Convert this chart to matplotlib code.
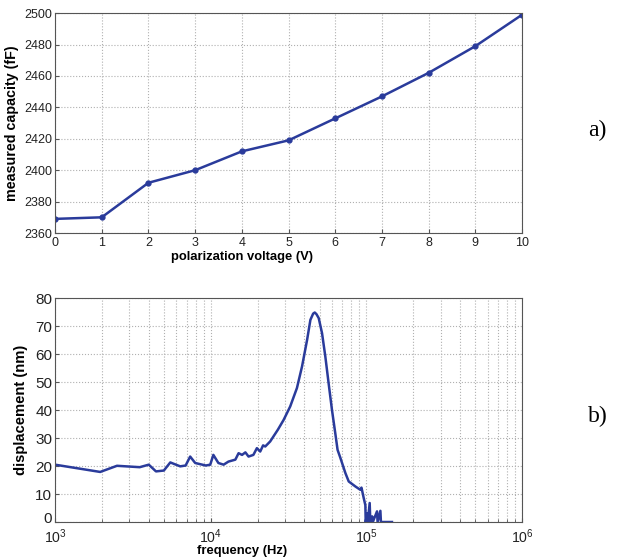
import numpy as np
import matplotlib.pyplot as plt
from matplotlib.ticker import LogLocator, NullFormatter
from matplotlib.transforms import ScaledTranslation

# (a) capacity vs polarization voltage
voltage = [0, 1, 2, 3, 4, 5, 6, 7, 8, 9, 10]
capacity = [2369, 2370, 2392, 2400, 2412, 2419, 2433, 2447, 2462, 2479, 2499]

# (b) displacement vs frequency
freq = [1000, 1950, 2500, 3500, 4000, 4450, 5000, 5500, 6370, 6900, 7380, 7950,
        9300, 9930, 10400, 11200, 12100, 13000, 14400, 15100, 15900, 16700,
        17500, 18800, 19800, 20800, 21700, 22400, 24100, 25300, 27000, 29400,
        32400, 35800, 38600, 41600, 43700, 45500, 46600, 47800, 49400, 51900,
        54500, 57200, 60100, 63100, 65300, 68000, 73300, 77000, 85000, 91500,
        93000, 96100, 98500, 99000, 101000, 102000, 105000, 106000, 109000,
        110000, 117000, 118000, 123000, 124000, 146000]
disp = [20.5, 17.9, 20.1, 19.6, 20.5, 18.1, 18.4, 21.3, 19.9, 20.2, 23.4, 21.1,
        20.2, 20.5, 24.0, 21.1, 20.5, 21.6, 22.3, 24.6, 24.0, 24.9,
        23.4, 24.0, 26.4, 25.2, 27.4, 27.0, 28.8, 30.6, 33.0, 36.5,
        41.3, 47.9, 55.6, 65.1, 72.3, 74.5, 74.9, 74.3, 72.9, 67.5,
        59.1, 49.6, 40.1, 31.8, 25.8, 23.0, 17.5, 14.5, 12.7, 11.5,
        12.3, 8.6, 6.0, 0, 3.0, 0, 6.8, 0, 2.0,
        0, 3.8, 0, 4.0, 0, 0]

LINE = '#2a3b9b'
GRID = dict(color='#b0b0b0', linestyle=':', linewidth=0.8)

plt.rcParams['font.family'] = ['Liberation Sans', 'DejaVu Sans']


def style(ax):
    for s in ax.spines.values():
        s.set_color('#555555')
        s.set_linewidth(0.8)
    ax.tick_params(direction='in', length=3, color='#555555', labelcolor='#222222')


def main():
    fig = plt.figure(figsize=(6.19, 5.58), dpi=100)

    # top panel
    ax1 = fig.add_axes([0.0889, 0.5824, 0.7545, 0.394])
    ax1.plot(voltage, capacity, '-o', color=LINE, linewidth=1.8, markersize=3.5)
    ax1.set_xlim(0, 10)
    ax1.set_ylim(2360, 2500)
    ax1.set_xticks(range(0, 11))
    ax1.set_yticks(range(2360, 2501, 20))
    ax1.grid(True, **GRID)
    style(ax1)
    ax1.tick_params(labelsize=9)
    ax1.tick_params(axis='x', pad=3)
    ax1.tick_params(axis='y', pad=2)
    ax1.set_xlabel('polarization voltage (V)', fontsize=9.4, fontweight='bold')
    ax1.xaxis.set_label_coords(0.40, -0.082)
    ax1.set_ylabel('measured capacity (fF)', fontsize=10.3, fontweight='bold')
    ax1.yaxis.set_label_coords(-0.078, 0.5)
    fig.text(0.965, 0.766, 'a)', family='Liberation Serif', fontsize=17,
             ha='center', va='center')

    # bottom panel
    ax2 = fig.add_axes([0.0889, 0.0645, 0.7545, 0.401])
    ax2.semilogx(freq, disp, '-', color=LINE, linewidth=1.8)
    ax2.set_xlim(1e3, 1e6)
    ax2.set_ylim(0, 80)
    ax2.set_yticks(range(0, 81, 10))
    ax2.xaxis.set_minor_locator(LogLocator(base=10, subs=np.arange(2, 10)))
    ax2.xaxis.set_minor_formatter(NullFormatter())
    ax2.grid(True, which='both', **GRID)
    style(ax2)
    ax2.tick_params(which='minor', direction='in', length=2, color='#555555')
    ax2.tick_params(axis='y', labelsize=11, pad=2)
    ax2.tick_params(axis='x', labelsize=10.2, pad=4)
    ax2.set_xlabel('frequency (Hz)', fontsize=9.4, fontweight='bold')
    ax2.xaxis.set_label_coords(0.40, -0.104)
    ax2.set_ylabel('displacement (nm)', fontsize=10.6, fontweight='bold')
    ax2.yaxis.set_label_coords(-0.058, 0.5)
    fig.text(0.965, 0.253, 'b)', family='Liberation Serif', fontsize=17,
             ha='center', va='center')

    # nudge the "0" label up a little so it clears the 10^3 label
    zero = ax2.yaxis.get_major_ticks()[0].label1
    zero.set_transform(zero.get_transform()
                       + ScaledTranslation(0, 3 / 72, fig.dpi_scale_trans))

    fig.savefig('out.png', dpi=100)


if __name__ == '__main__':
    main()
